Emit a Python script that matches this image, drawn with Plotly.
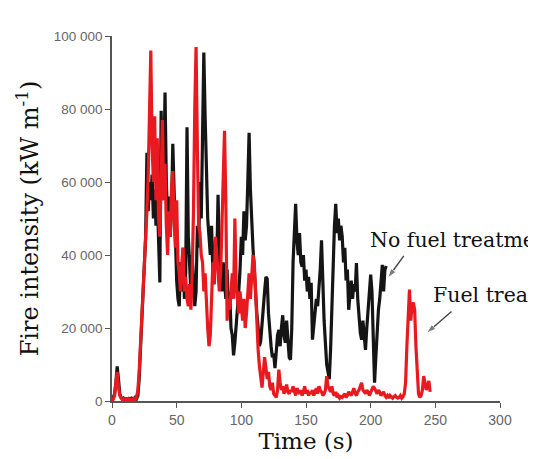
import plotly.graph_objects as go

# ---- data ----
time_black = list(range(0, 213))
no_treatment = [
    0, 1000, 2000, 5000, 9500, 6000, 2000, 1000, 500, 800,
    500, 600, 400, 700, 500, 800, 600, 500, 1000, 600,
    1500, 6000, 14000, 22000, 30000, 34000, 45000, 68000, 52000, 60000,
    55000, 62000, 50000, 58000, 48000, 56000, 40000, 32500, 79500, 55000,
    62000, 84500, 60000, 50000, 56000, 45000, 52000, 70500, 58000, 45000,
    33000, 28000, 26000, 38000, 30000, 42000, 28000, 35000, 75000, 45000,
    38000, 30000, 40000, 32000, 26000, 30000, 48000, 42000, 60000, 50000,
    70000, 95500, 78000, 62000, 50000, 45000, 40000, 48000, 35000, 32000,
    44000, 38000, 56500, 40000, 36000, 30000, 38000, 33000, 28000, 36000,
    25000, 30000, 20000, 18000, 12500, 16000, 20000, 26000, 30000, 36000,
    45000, 40000, 52000, 44000, 48000, 60000, 73500, 58000, 48000, 42000,
    36000, 28000, 24000, 20000, 15000, 16500, 22000, 26000, 30000, 34000,
    33500, 24000, 18000, 15000, 12000, 13000, 9000, 14000, 18000, 19500,
    15000, 20000, 23500, 18000, 16000, 22000, 17000, 12000, 11300, 20000,
    38000, 46000, 54000, 44000, 40000, 46000, 38000, 36800, 40000, 33000,
    36000, 30000, 34000, 28000, 32400, 16800, 20000, 24000, 28000, 26000,
    30000, 36000, 44000, 30000, 22000, 16000, 10000, 8000, 6000, 14000,
    28000, 40000, 48000, 54000, 46000, 50000, 44000, 48000, 45000, 38000,
    42000, 33000, 36000, 25000, 30000, 33000, 28000, 32000, 30000, 37800,
    28000, 22000, 18700, 16800, 22000, 18000, 14000, 20000, 26000, 30000,
    34600, 30000, 15000, 5000, 12000, 20400, 25000, 28000, 32000, 37300,
    30000, 36000, 37000,
]

time_red = list(range(0, 247))
fuel_treatment = [
    0, 500, 1500, 4000, 8000, 4000, 1500, 800, 400, 600,
    300, 500, 300, 600, 400, 500, 300, 700, 400, 1000,
    3000, 8000, 15000, 24000, 32000, 38000, 44000, 52000, 62000, 84000,
    96000, 70000, 60000, 78000, 55000, 72000, 50000, 45000, 60000, 77000,
    55000, 65000, 48000, 40000, 52000, 45000, 58000, 63000, 50000, 42000,
    55000, 38000, 35000, 30000, 38000, 42000, 30000, 34000, 28000, 26000,
    32000, 25000, 35000, 52000, 80000, 97000, 70000, 48000, 46000, 40000,
    38000, 30000, 35000, 25000, 20000, 15000, 18000, 28000, 38000, 32000,
    45000, 40000, 36000, 30000, 35000, 48000, 60000, 74000, 55000, 22000,
    28000, 25000, 30000, 35000, 28000, 50000, 32000, 28000, 24000, 30000,
    26000, 22000, 28000, 20000, 24000, 30000, 35000, 28000, 33000, 40000,
    38000, 28000, 20000, 14000, 9500, 6000, 3700, 8000, 12000, 9000,
    6000, 8000, 4000, 3000, 5000, 2000, 1500, 1000, 3000, 8600,
    5000, 3000, 4000, 2000, 3000, 4500, 2500, 2000, 3000, 2500,
    4000, 3000, 1500, 3500, 2500, 2000, 3000, 1500, 2500, 4000,
    2000, 3000, 1500, 2500, 2000, 3000, 1500, 2500, 3500, 2000,
    4000, 3000, 2500, 1500, 2000, 3000, 6800, 4000, 3000, 2500,
    4000, 2000, 1500, 2500, 1000, 1500, 800, 1200, 1000, 1500,
    2000, 1000, 1500, 2500, 2000, 1500, 2500, 3500, 2000, 1500,
    2500, 3000, 4000, 5000, 3000, 2500, 2000, 3000, 2500, 1500,
    2500, 3000, 4000, 3500, 2500, 2000, 3000, 2500, 1500, 2000,
    2500, 1500, 1000, 1500, 800, 1500, 1000, 800, 1200, 1500,
    1000, 800, 1000, 1500, 800, 1200, 2000, 5000, 15000, 26000,
    30500, 22000, 26000, 27000, 25000, 15000, 6000, 2000, 1000, 1500,
    3000, 6800, 5000, 3000, 4000, 5500, 2500,
]

x_ticks = [0, 50, 100, 150, 200, 250, 300]
y_ticks = [0, 20000, 40000, 60000, 80000, 100000]
y_tick_labels = ["0", "20 000", "40 000", "60 000", "80 000", "100 000"]

# label placement (data coordinates) and arrow (tail -> head) for each series
label_black = dict(text="No fuel treatment", x=197.8, y=44100)
label_red = dict(text="Fuel treatment", x=246.5, y=29100)
arrow_black = dict(x=[225.6, 213.2], y=[39750, 33700])
arrow_red = dict(x=[262.5, 243.2], y=[24500, 18600])

SERIF = "DejaVu Serif, Liberation Serif, serif"
SANS = "Liberation Sans, Arial, sans-serif"

fig = go.Figure()
fig.add_trace(go.Scatter(x=time_black, y=no_treatment, mode="lines",
                         line=dict(color="#151515", width=3.2), name="No fuel treatment",
                         showlegend=False))
fig.add_trace(go.Scatter(x=time_red, y=fuel_treatment, mode="lines",
                         line=dict(color="#e8191f", width=3.2), name="Fuel treatment",
                         showlegend=False))

for arr in (arrow_black, arrow_red):
    fig.add_trace(go.Scatter(
        x=arr["x"], y=arr["y"], mode="lines+markers",
        line=dict(color="#444", width=1.4),
        marker=dict(symbol="arrow", angleref="previous", size=[0, 10], color="#444"),
        showlegend=False, hoverinfo="skip", cliponaxis=False))

# the page body adds an 8 px offset, so margins are reduced accordingly
fig.update_layout(
    width=536, height=459,
    margin=dict(l=104, r=44, t=28, b=66),
    paper_bgcolor="white", plot_bgcolor="white",
    xaxis=dict(range=[0, 300], tickvals=x_ticks, ticktext=[str(v) for v in x_ticks],
               automargin=False,
               showgrid=False, zeroline=False, showline=True, linecolor="#555",
               linewidth=1.5, ticks="outside", ticklen=5, tickcolor="#555",
               tickfont=dict(family=SANS, size=14, color="#666"),
               title=dict(text="Time (s)", font=dict(family=SERIF, size=23, color="#111"),
                          standoff=6)),
    yaxis=dict(range=[0, 100000], tickvals=y_ticks, ticktext=y_tick_labels,
               automargin=False,
               showgrid=False, zeroline=False, showline=True, linecolor="#555",
               linewidth=1.5, ticks="outside", ticklen=5, tickcolor="#555",
               tickfont=dict(family=SANS, size=13.5, color="#666"),
               title=dict(text="Fire intensity (kW m<sup>-1</sup>)",
                          font=dict(family=SERIF, size=24, color="#111"), standoff=8)),
    annotations=[
        dict(x=lab["x"], y=lab["y"], xref="x", yref="y", text=lab["text"],
             showarrow=False, xanchor="left", yanchor="middle",
             font=dict(family=SERIF, size=20.5, color="#111"))
        for lab in (label_black, label_red)
    ],
)

fig.write_html("out.html")
